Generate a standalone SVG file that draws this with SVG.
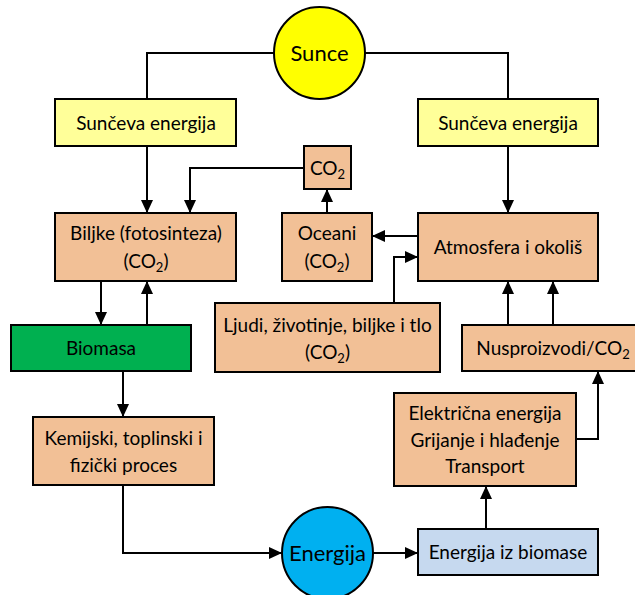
<svg xmlns="http://www.w3.org/2000/svg" width="635" height="595" viewBox="0 0 635 595">
<style>
  .box { stroke: #000; stroke-width: 2; }
  .tan { fill: #F2C096; }
  .yel { fill: #FFFF99; }
  .grn { fill: #00B050; }
  .lblue { fill: #C6D9EF; }
  .t { font-family: Lato, "Liberation Sans", sans-serif; font-size: 19px; fill: #000; text-anchor: middle; }
  .big { font-size: 22px; }
  .sub { font-size: 13px; }
  .conn path { fill: none; stroke: #000; stroke-width: 2; }
</style>
<defs>
  <marker id="arr" markerUnits="userSpaceOnUse" markerWidth="13" markerHeight="12" refX="13" refY="6" orient="auto">
    <path d="M0,0 L13,6 L0,12 z" fill="#000"/>
  </marker>
</defs>
<rect width="635" height="595" fill="#fff"/>

<g class="conn">
  <path d="M274,53 H147 V99"/>
  <path d="M365,53 H508 V99"/>
  <path d="M147,146 V213" marker-end="url(#arr)"/>
  <path d="M304,168 H190 V213" marker-end="url(#arr)"/>
  <path d="M327,213 V189" marker-end="url(#arr)"/>
  <path d="M508,146 V213" marker-end="url(#arr)"/>
  <path d="M418,236 H372" marker-end="url(#arr)"/>
  <path d="M394,303 V257 H418" marker-end="url(#arr)"/>
  <path d="M101,281 V325" marker-end="url(#arr)"/>
  <path d="M147,325 V281" marker-end="url(#arr)"/>
  <path d="M508,325 V281" marker-end="url(#arr)"/>
  <path d="M553,325 V281" marker-end="url(#arr)"/>
  <path d="M576,439 H598 V371" marker-end="url(#arr)"/>
  <path d="M123,371 V417" marker-end="url(#arr)"/>
  <path d="M123,485 V553 H282" marker-end="url(#arr)"/>
  <path d="M373,553 H418" marker-end="url(#arr)"/>
  <path d="M486,529 V486" marker-end="url(#arr)"/>
</g>

<g id="sunce">
  <ellipse class="box" cx="319.5" cy="53" rx="45.5" ry="46" fill="#FFFF00"/>
  <text class="t big" x="319.5" y="61">Sunce</text>
</g>
<g id="suncevaL">
  <rect class="box yel" x="55" y="99" width="181" height="47"/>
  <text class="t" x="146" y="129.5">Sunčeva energija</text>
</g>
<g id="suncevaR">
  <rect class="box yel" x="418" y="99" width="180" height="47"/>
  <text class="t" x="508" y="129.5">Sunčeva energija</text>
</g>
<g id="co2">
  <rect class="box tan" x="304" y="146" width="47" height="43"/>
  <text class="t" x="327.5" y="174.5">CO<tspan class="sub" dy="4">2</tspan></text>
</g>
<g id="biljke">
  <rect class="box tan" x="55" y="213" width="181" height="68"/>
  <text class="t" x="146" y="240">Biljke (fotosinteza)</text>
  <text class="t" x="146" y="268">(CO<tspan class="sub" dy="4">2</tspan><tspan dy="-4">)</tspan></text>
</g>
<g id="oceani">
  <rect class="box tan" x="282" y="213" width="90" height="68"/>
  <text class="t" x="327" y="240">Oceani</text>
  <text class="t" x="327" y="268">(CO<tspan class="sub" dy="4">2</tspan><tspan dy="-4">)</tspan></text>
</g>
<g id="atmosfera">
  <rect class="box tan" x="418" y="213" width="180" height="68"/>
  <text class="t" x="508" y="254">Atmosfera i okoliš</text>
</g>
<g id="ljudi">
  <rect class="box tan" x="215" y="303" width="225" height="69"/>
  <text class="t" x="327.5" y="332">Ljudi, životinje, biljke i tlo</text>
  <text class="t" x="327.5" y="359">(CO<tspan class="sub" dy="4">2</tspan><tspan dy="-4">)</tspan></text>
</g>
<g id="biomasa">
  <rect class="box grn" x="11" y="325" width="180" height="46"/>
  <text class="t" x="101" y="355">Biomasa</text>
</g>
<g id="nusproizvodi">
  <rect class="box tan" x="462" y="325" width="182" height="46"/>
  <text class="t" x="553" y="355">Nusproizvodi/CO<tspan class="sub" dy="4">2</tspan></text>
</g>
<g id="kemijski">
  <rect class="box tan" x="33" y="417" width="181" height="68"/>
  <text class="t" x="123.5" y="445">Kemijski, toplinski i</text>
  <text class="t" x="123.5" y="472">fizički proces</text>
</g>
<g id="elektricna">
  <rect class="box tan" x="394" y="393" width="182" height="93"/>
  <text class="t" x="485" y="420">Električna energija</text>
  <text class="t" x="485" y="447">Grijanje i hlađenje</text>
  <text class="t" x="485" y="473">Transport</text>
</g>
<g id="energija">
  <ellipse class="box" cx="327.5" cy="553" rx="45.5" ry="46" fill="#00B0F0"/>
  <text class="t big" x="327.5" y="561">Energija</text>
</g>
<g id="energijaBiomase">
  <rect class="box lblue" x="418" y="529" width="180" height="46"/>
  <text class="t" x="508" y="559">Energija iz biomase</text>
</g>
</svg>
